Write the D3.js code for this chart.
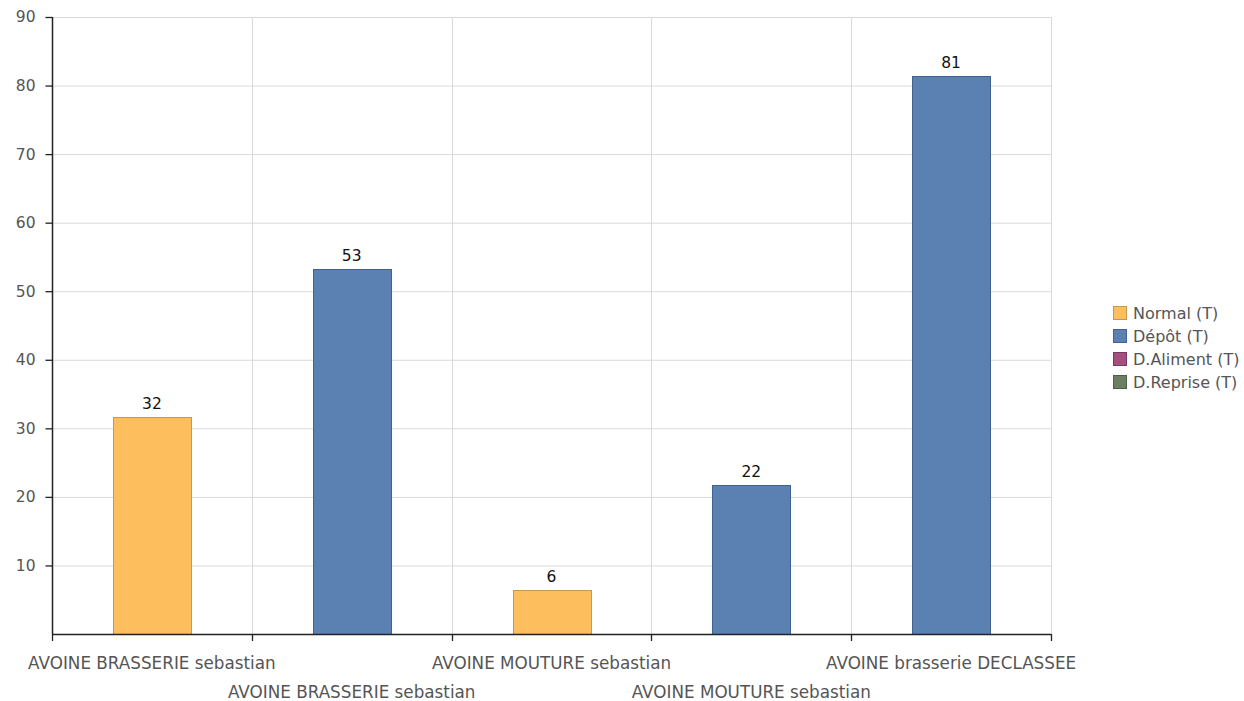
<!DOCTYPE html>
<html><head><meta charset="utf-8">
<script src="https://cdn.jsdelivr.net/npm/d3@7"></script>
<style>body{margin:0;background:#fff;} text{font-family:"DejaVu Sans",sans-serif;}</style>
</head><body>
<svg id="c" width="1244" height="701"></svg>
<script>
const categories = ["AVOINE BRASSERIE sebastian","AVOINE BRASSERIE sebastian","AVOINE MOUTURE sebastian","AVOINE MOUTURE sebastian","AVOINE brasserie DECLASSEE"];
const seriesNames = ["Normal (T)","Dépôt (T)","D.Aliment (T)","D.Reprise (T)"];
const normal   = [31.6, 0, 6.4, 0, 0];
const depot    = [0, 53.2, 0, 21.8, 81.4];
const dAliment = [0, 0, 0, 0, 0];
const dReprise = [0, 0, 0, 0, 0];
const yTicks = [10,20,30,40,50,60,70,80,90];
const colors = ["#FDBE5E","#5B80B2","#A3507F","#6B7F62"];
const strokes = ["#C9964A","#41628F","#7D3A60","#4E5E47"];

const FS = 15.5;
const svg = d3.select("#c");
const m = {l:52, r:1051, t:17, b:634};
const x = d3.scaleBand().domain(d3.range(categories.length)).range([m.l, m.r]).paddingInner(0).paddingOuter(0);
const y = d3.scaleLinear().domain([0,90]).range([m.b, m.t]);

// grid
svg.append("g").selectAll("line").data(yTicks).join("line")
  .attr("x1", m.l).attr("x2", m.r).attr("y1", d=>y(d)+0.5).attr("y2", d=>y(d)+0.5)
  .attr("stroke","#d9d9d9").attr("stroke-width",1);
svg.append("g").selectAll("line").data(d3.range(1, categories.length+1)).join("line")
  .attr("x1", d=>Math.round(x.step()*d + m.l)+0.5).attr("x2", d=>Math.round(x.step()*d + m.l)+0.5)
  .attr("y1", m.t).attr("y2", m.b).attr("stroke","#d9d9d9");

// stacked bars
const rows = categories.map((c,i)=>({i, v:[normal[i], depot[i], dAliment[i], dReprise[i]]}));
const barW = x.bandwidth()*0.39;
rows.forEach(r=>{
  let acc = 0;
  r.v.forEach((v,s)=>{
    if (v>0){
      svg.append("rect")
        .attr("x", Math.round(x(r.i)+x.bandwidth()/2-barW/2)+0.5)
        .attr("y", Math.round(y(acc+v))+0.5)
        .attr("width", Math.round(barW))
        .attr("height", Math.round(y(acc)) - Math.round(y(acc+v)))
        .attr("fill", colors[s]).attr("stroke", strokes[s]).attr("stroke-width",1);
    }
    acc += v;
  });
  if (acc>0){
    svg.append("text").attr("x", x(r.i)+x.bandwidth()/2).attr("y", y(acc)-8)
      .attr("text-anchor","middle").attr("font-size",FS).attr("fill","#111")
      .text(Math.round(acc));
  }
});

// y axis
const ya = svg.append("g").attr("transform",`translate(${m.l+0.5},0)`)
  .call(d3.axisLeft(y).tickValues(yTicks).tickSize(7).tickPadding(10));
ya.select(".domain").attr("stroke","#222").attr("stroke-width",1.5).attr("d",`M-0,${m.t}V${m.b}`);
ya.selectAll(".tick line").attr("stroke","#222").attr("stroke-width",1.3);
ya.selectAll(".tick text").attr("font-size",FS).attr("fill","#555").attr("font-family","DejaVu Sans");

// x axis
svg.append("line").attr("x1",m.l).attr("x2",m.r).attr("y1",m.b+0.5).attr("y2",m.b+0.5).attr("stroke","#222").attr("stroke-width",1.5);
svg.append("g").selectAll("line").data(d3.range(0, categories.length+1)).join("line")
  .attr("x1", d=>Math.round(x.step()*d + m.l)+0.5).attr("x2", d=>Math.round(x.step()*d + m.l)+0.5)
  .attr("y1", m.b).attr("y2", m.b+7).attr("stroke","#222").attr("stroke-width",1.3);
svg.append("g").selectAll("text").data(categories).join("text")
  .attr("x",(d,i)=>x(i)+x.bandwidth()/2)
  .attr("y",(d,i)=> i%2===0 ? 669 : 698)
  .attr("text-anchor","middle").attr("font-size",16.8).attr("fill","#555")
  .text(d=>d);

// legend
const lg = svg.append("g").attr("transform","translate(1113,306)");
seriesNames.forEach((n,i)=>{
  lg.append("rect").attr("x",0.5).attr("y",i*23+0.5).attr("width",13).attr("height",13)
    .attr("fill",colors[i]).attr("stroke",strokes[i]);
  lg.append("text").attr("x",20).attr("y",i*23+13).attr("font-size",16).attr("fill","#555").text(n);
});
</script>
</body></html>
